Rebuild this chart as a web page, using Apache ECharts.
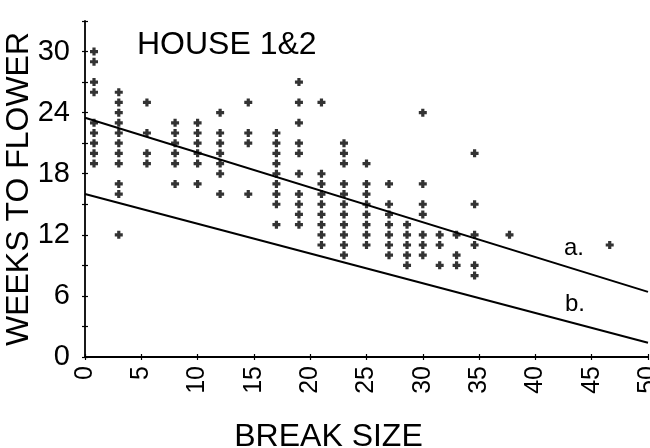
<!DOCTYPE html>
<html>
<head>
<meta charset="utf-8">
<script src="https://cdn.jsdelivr.net/npm/echarts@6/dist/echarts.min.js"></script>
<style>html,body{margin:0;padding:0;background:#fff}#c{width:650px;height:448px}</style>
</head>
<body>
<div id="c"></div>
<script>
// Break size columns and the weeks-to-flower values observed at each
const breakSizes = [0.8, 3, 5.5, 8, 10, 12, 14.5, 17, 19, 21, 23, 25, 27, 28.6, 30, 31.5, 33, 34.6, 37.7, 46.6];
const weeksByColumn = [
  [30, 29, 27, 26, 23, 22, 21, 20, 19],
  [26, 25, 24, 23, 22, 21, 20, 19, 17, 16, 12],
  [25, 22, 20, 19],
  [23, 22, 21, 20, 19, 17],
  [23, 22, 21, 20, 19, 17],
  [24, 22, 21, 20, 19, 18, 16],
  [25, 22, 21, 16],
  [22, 21, 20, 19, 18, 17, 16, 15, 13],
  [27, 25, 23, 21, 20, 18, 16, 15, 14, 13],
  [25, 18, 17, 16, 15, 14, 13, 12, 11],
  [21, 20, 19, 17, 16, 15, 14, 13, 12, 11, 10],
  [19, 17, 16, 15, 14, 13, 12, 11],
  [17, 15, 14, 13, 12, 11, 10],
  [13, 12, 11, 10, 9],
  [24, 17, 15, 14, 12, 11, 10],
  [12, 11, 9],
  [12, 10, 9],
  [20, 15, 12, 11, 9, 8],
  [12],
  [11]
];
const lineA = [[0, 23.5], [50, 6.4]];
const lineB = [[0, 16.0], [50, 1.4]];
const xTicks = [0, 5, 10, 15, 20, 25, 30, 35, 40, 45, 50];
const yTickLabels = [0, 6, 12, 18, 24, 30];

const points = [];
breakSizes.forEach((x, i) => weeksByColumn[i].forEach(y => points.push([x, y])));

const FONT = 'Liberation Sans';
const chart = echarts.init(document.getElementById('c'));
const plus = 'path://M-1.6,-4 L1.6,-4 L1.6,-1.6 L4,-1.6 L4,1.6 L1.6,1.6 L1.6,4 L-1.6,4 L-1.6,1.6 L-4,1.6 L-4,-1.6 L-1.6,-1.6 Z';
const axisLine = {show: true, lineStyle: {color: '#000', width: 1.8}};
chart.setOption({
  backgroundColor: '#fff',
  animation: false,
  grid: {left: 85, right: 2, top: 21, bottom: 91, containLabel: false, outerBoundsMode: 'none'},
  xAxis: [{
    type: 'value', min: 0, max: 50, interval: 5,
    axisLine: axisLine,
    axisTick: {show: true, length: 3, lineStyle: {color: '#000', width: 1.2}},
    splitLine: {show: false},
    axisLabel: {rotate: 90, margin: 9, fontFamily: FONT, fontSize: 25, color: '#000',
      formatter: v => xTicks.indexOf(v) >= 0 ? String(v) : ''},
    name: 'BREAK SIZE', nameLocation: 'middle', nameGap: 64,
    nameTextStyle: {fontFamily: FONT, fontSize: 32, color: '#000', padding: [0, 76, 0, 0]}
  }, {
    type: 'value', min: 0, max: 50, interval: 5, position: 'bottom',
    axisLine: {show: false},
    axisTick: {show: true, inside: true, length: 3, lineStyle: {color: '#000', width: 1.2}},
    axisLabel: {show: false}, splitLine: {show: false}
  }],
  yAxis: [{
    type: 'value', min: 0, max: 33, interval: 3,
    axisLine: axisLine,
    axisTick: {show: true, length: 3, lineStyle: {color: '#000', width: 1.2}},
    splitLine: {show: false},
    axisLabel: {margin: 15, fontFamily: FONT, fontSize: 29, color: '#000',
      formatter: v => yTickLabels.indexOf(v) >= 0 ? String(v) : ''},
    name: 'WEEKS TO FLOWER', nameLocation: 'middle', nameRotate: 90, nameGap: 50,
    nameMoveOverlap: false,
    nameTextStyle: {fontFamily: FONT, fontSize: 32, color: '#000'}
  }, {
    type: 'value', min: 0, max: 33, interval: 3, position: 'left',
    axisLine: {show: false},
    axisTick: {show: true, inside: true, length: 3, lineStyle: {color: '#000', width: 1.2}},
    axisLabel: {show: false}, splitLine: {show: false}
  }],
  graphic: [
    {type: 'text', left: 137, top: 29, style: {text: 'HOUSE 1&2', fontFamily: FONT, fontSize: 32, fill: '#000'}},
    {type: 'text', left: 564, top: 236, style: {text: 'a.', fontFamily: FONT, fontSize: 24, fill: '#000'}},
    {type: 'text', left: 565, top: 292, style: {text: 'b.', fontFamily: FONT, fontSize: 24, fill: '#000'}}
  ],
  series: [
    {type: 'scatter', data: points, symbol: plus, symbolSize: 8, itemStyle: {color: '#000'}},
    {type: 'line', data: lineA, showSymbol: false, lineStyle: {color: '#000', width: 2}},
    {type: 'line', data: lineB, showSymbol: false, lineStyle: {color: '#000', width: 2}}
  ]
});
</script>
</body>
</html>
